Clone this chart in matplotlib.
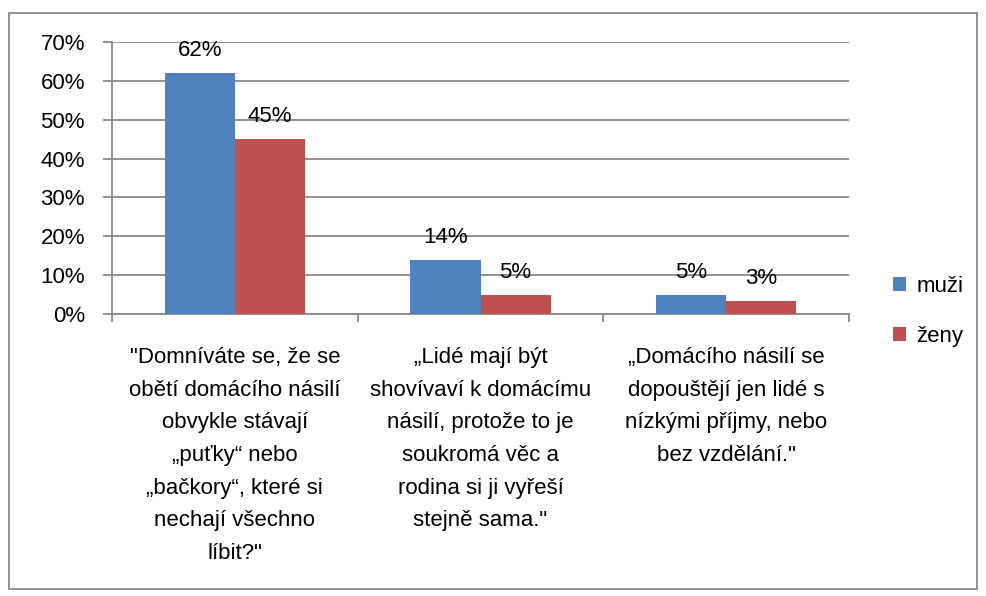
import matplotlib
matplotlib.use("Agg")
import matplotlib.pyplot as plt
import numpy as np
from matplotlib.patches import Rectangle

categories = [
    "\"Domníváte se, že se\nobětí domácího násilí\nobvykle stávají\n„puťky“ nebo\n„bačkory“, které si\nnechají všechno\nlíbit?\"",
    "„Lidé mají být\nshovívaví k domácímu\nnásilí, protože to je\nsoukromá věc a\nrodina si ji vyřeší\nstejně sama.\"",
    "„Domácího násilí se\ndopouštějí jen lidé s\nnízkými příjmy, nebo\nbez vzdělání.\"",
]
series_names = ["muži", "ženy"]
muzi = [62, 14, 5]
zeny = [45, 5, 3.3]
muzi_labels = ["62%", "14%", "5%"]
zeny_labels = ["45%", "5%", "3%"]
yticks = [0, 10, 20, 30, 40, 50, 60, 70]

plt.rcParams['font.family'] = ['Liberation Sans', 'DejaVu Sans']
FS = 16
blue = "#4F81BD"
red = "#C0504D"
grid = "#888888"

fig = plt.figure(figsize=(9.86, 5.96), dpi=100)
W, H = 986, 596
ax = fig.add_axes([112 / W, 1 - 314 / H, (849 - 112) / W, (314 - 42) / H])

x = np.arange(len(categories))
bw = 1 / 3.5
ax.bar(x - bw / 2, muzi, width=bw, color=blue, label=series_names[0], zorder=3)
ax.bar(x + bw / 2, zeny, width=bw, color=red, label=series_names[1], zorder=3)

for xi, v, s in zip(x, muzi, muzi_labels):
    ax.annotate(s, (xi - bw / 2, v), xytext=(0, 8.5), textcoords="offset points",
                ha="center", va="bottom", fontsize=FS, zorder=4)
for xi, v, s in zip(x, zeny, zeny_labels):
    ax.annotate(s, (xi + bw / 2, v), xytext=(0, 8.5), textcoords="offset points",
                ha="center", va="bottom", fontsize=FS, zorder=4)

ax.set_xlim(-0.5, len(categories) - 0.5)
ax.set_ylim(0, 70)
ax.set_yticks(yticks)
ax.set_yticklabels([f"{t}%" for t in yticks], fontsize=FS)
ax.yaxis.grid(True, color=grid, linewidth=1.3, zorder=0)
ax.tick_params(axis="y", length=6.5, width=1.3, color=grid, pad=13, direction="out")
ax.set_xticks(np.arange(-0.5, len(categories), 1.0))
ax.set_xticklabels([])
ax.tick_params(axis="x", length=6, width=1.3, color=grid, direction="out")
for sp in ["top", "right"]:
    ax.spines[sp].set_visible(False)
for sp in ["left", "bottom"]:
    ax.spines[sp].set_color(grid)
    ax.spines[sp].set_linewidth(1.3)

for xi, c in zip(x, categories):
    ax.text(xi, -0.123, c, transform=ax.get_xaxis_transform(), ha="center", va="top",
            fontsize=FS, linespacing=1.72)

leg = fig.legend(loc="upper left", bbox_to_anchor=(884 / W, 1 - 267 / H), frameon=False,
                 fontsize=FS, handlelength=0.6, handleheight=0.6, handletextpad=0.45,
                 labelspacing=1.3, borderaxespad=0)

fig.patches.append(Rectangle((9 / W, 1 - 589 / H), (977 - 9) / W, (589 - 13) / H,
                             transform=fig.transFigure, fill=False, edgecolor="#888888",
                             linewidth=1.3))

fig.savefig("out.png", dpi=100)
